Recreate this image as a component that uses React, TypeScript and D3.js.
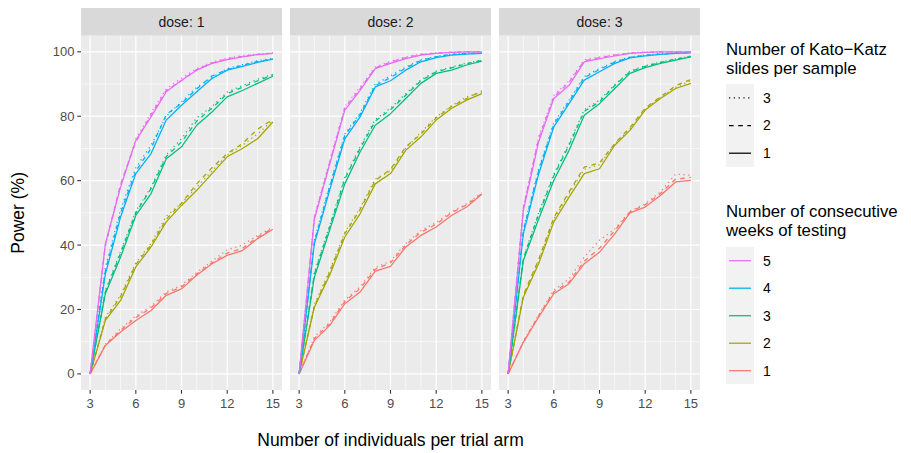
import React, { useEffect } from "react";
import * as d3 from "d3";

// trial arm sizes on the x axis
const armSizes = [3, 4, 5, 6, 7, 8, 9, 10, 11, 12, 13, 14, 15];
const doseLabels = ["dose: 1", "dose: 2", "dose: 3"];
const weekLevels = [1, 2, 3, 4, 5];
const slideLevels = [1, 2, 3];
const weekColors = ["#F8766D", "#A3A500", "#00BF7D", "#00B0F6", "#E76BF3"];
const xTicks = [3, 6, 9, 12, 15];
const yTicks = [0, 20, 40, 60, 80, 100];

// power (%) per week count; rows are 1, 2, 3 Kato-Katz slides
const dose1Week1 = [
  [0, 8.8, 13, 16.6, 19.7, 24.4, 26.4, 30.6, 34.2, 36.8, 38.3, 42, 44.9],
  [0, 9, 13.5, 17.5, 20.5, 25, 27, 31, 34.5, 37.5, 39, 42.5, 45.2],
  [0, 9.2, 14, 18, 21, 25.5, 27.5, 31.5, 35, 38.5, 40, 43, 45.5],
];
const dose1Week2 = [
  [0, 16.6, 22.8, 33.2, 39.4, 47.2, 52.3, 57, 62.2, 67.4, 70, 73, 78.2],
  [0, 17, 24, 34, 40, 48, 53, 59, 64, 68.4, 71.5, 76, 79],
  [0, 17.5, 24.5, 34.5, 40.5, 49, 53, 58, 63, 68, 71, 74.5, 78.8],
];
const dose1Week3 = [
  [0, 24.9, 36.3, 49.2, 56, 66.8, 70.5, 77.2, 81.3, 86, 88, 90.2, 92.4],
  [0, 25.5, 37.5, 50, 57.5, 67.5, 72, 78.5, 82.5, 87, 89, 91, 92.8],
  [0, 26, 38, 50.5, 58, 68, 73, 79.5, 83, 87.5, 89.5, 91.5, 93],
];
const dose1Week4 = [
  [0, 31, 48.7, 62.2, 68.4, 78.8, 83.4, 87.6, 91.7, 94.3, 95.5, 96.7, 97.7],
  [0, 32, 50, 63, 70, 80.5, 84, 88.5, 92.5, 94.5, 95.8, 97, 97.8],
  [0, 33, 51, 64, 71, 80, 84.5, 89, 92, 94.8, 96, 97.2, 98],
];
const dose1Week5 = [
  [0, 40.4, 58, 72.5, 79.8, 87.6, 91.2, 94.3, 96.4, 97.6, 98.4, 99.1, 99.5],
  [0, 40, 59, 72, 80.5, 88, 91, 94.5, 96.5, 97.8, 98.6, 99.2, 99.6],
  [0, 39.5, 58.5, 73, 81, 88.5, 91.8, 94.8, 96.8, 98, 98.8, 99.3, 99.7],
];

const dose2Week1 = [
  [0, 10.4, 15, 21.8, 25.4, 31.9, 33.4, 39.4, 43, 45.6, 49.2, 51.8, 55.8],
  [0, 11, 15.5, 22.5, 26.5, 32.5, 34.5, 40, 44, 46.5, 50, 52.5, 56],
  [0, 11.5, 16, 23, 27, 33, 35, 40.5, 44.5, 47, 50.3, 52.8, 56.2],
];
const dose2Week2 = [
  [0, 20.7, 30.6, 42.5, 49.7, 59, 62.2, 69.4, 73.6, 78.8, 82.4, 85, 87],
  [0, 21, 31.5, 43.5, 51, 60, 63.5, 70.5, 74.5, 79.5, 83, 85.5, 87.9],
  [0, 21.5, 32, 44, 51.5, 60.5, 63, 70, 75, 79.8, 83.2, 86, 87.5],
];
const dose2Week3 = [
  [0, 30, 44.6, 59, 68.9, 77.2, 80.8, 85.5, 90.2, 93.3, 94.3, 95.9, 97.1],
  [0, 31, 45.5, 60.5, 70, 78.5, 82, 86.5, 91, 93.8, 95, 96.3, 97.3],
  [0, 31.5, 46, 61, 70.5, 79, 82.5, 87, 91.3, 94, 95.2, 96.5, 97.4],
];
const dose2Week4 = [
  [0, 40.4, 57, 73, 79.8, 89.1, 91, 94.3, 96.9, 98.2, 99, 99.3, 99.5],
  [0, 41, 58, 74, 80.5, 89.5, 92, 95, 97.3, 98.5, 99.2, 99.5, 99.7],
  [0, 41.5, 58.5, 74.5, 81, 90, 92.5, 95.3, 97.5, 98.6, 99.3, 99.6, 99.8],
];
const dose2Week5 = [
  [0, 48, 65, 81.9, 88, 94.8, 96.4, 97.9, 99, 99.5, 99.8, 100, 100],
  [0, 48.5, 65.5, 82.5, 88.5, 95, 96.8, 98.2, 99.2, 99.6, 99.8, 100, 100],
  [0, 49, 66, 83, 89, 95.3, 97, 98.4, 99.3, 99.7, 99.9, 100, 100],
];

const dose3Week1 = [
  [0, 9.8, 17.6, 24.9, 28, 34.2, 37.8, 43.5, 50, 51.8, 55.4, 59.6, 60.1],
  [0, 10, 18, 25.5, 28.5, 35, 39, 44.5, 50.3, 52.5, 56, 60.5, 61],
  [0, 10.2, 18.3, 26, 29.5, 36.3, 41.5, 45, 50.5, 52.8, 56.5, 62, 61.7],
];
const dose3Week2 = [
  [0, 23.8, 34.2, 47.2, 54.9, 62.2, 63.7, 71, 75.6, 81.9, 85.5, 88.6, 90.2],
  [0, 24.5, 35.5, 48.5, 56.5, 64.2, 65.5, 71.5, 76.5, 82.5, 86, 89.5, 91.4],
  [0, 24, 35, 48, 56, 63.5, 65, 71.3, 76, 82.2, 85.8, 89, 91],
];
const dose3Week3 = [
  [0, 35.2, 48, 60.1, 69.4, 80.3, 83.9, 88.6, 93.3, 95.1, 96.4, 97.4, 98.4],
  [0, 35.8, 49.5, 61.5, 71, 81.5, 84.5, 89.5, 93.8, 95.5, 96.7, 97.7, 98.6],
  [0, 36, 50, 62, 71.5, 82, 85, 89.8, 94, 95.7, 96.8, 97.8, 98.7],
];
const dose3Week4 = [
  [0, 43.5, 62, 76.7, 83.9, 91.2, 93.8, 96.4, 98.1, 98.7, 99.2, 99.5, 99.7],
  [0, 44.5, 63, 77.5, 84.5, 92, 94.5, 96.8, 98.3, 98.9, 99.3, 99.6, 99.8],
  [0, 45, 63.5, 78, 85, 92.3, 94.8, 97, 98.4, 99, 99.4, 99.7, 99.8],
];
const dose3Week5 = [
  [0, 50.8, 72, 85.5, 89.6, 96.9, 97.9, 98.7, 99.5, 99.8, 100, 100, 100],
  [0, 51.5, 73, 86, 90.5, 97.2, 98.2, 99, 99.6, 99.8, 100, 100, 100],
  [0, 52, 73.5, 86.5, 91, 97.5, 98.4, 99.1, 99.7, 99.9, 100, 100, 100],
];

const powerByDose = [
  [dose1Week1, dose1Week2, dose1Week3, dose1Week4, dose1Week5],
  [dose2Week1, dose2Week2, dose2Week3, dose2Week4, dose2Week5],
  [dose3Week1, dose3Week2, dose3Week3, dose3Week4, dose3Week5],
];

const W = 911;
const H = 453;
const FONT = "'Liberation Sans', Arial, sans-serif";
const panelLefts = [81, 290, 499];
const panelW = 201;
const panelTop = 35.7;
const panelBottom = 390;
const stripTop = 8;
const lineW = 1.25;
const legendTitleSize = 16.8;
const dashFor = (s: number) =>
  s === 1 ? undefined : s === 2 ? "4.6,4.6" : "1.2,3.6";

export default function App() {
  useEffect(() => {
    document.body.style.margin = "0";
  }, []);

  const y = d3.scaleLinear().domain([-5, 105]).range([panelBottom, panelTop]);
  const yMinor = [10, 30, 50, 70, 90];
  const xMinor = d3.range(3, 16).filter((v) => v % 3 !== 0);

  return (
    <svg width={W} height={H} style={{ display: "block" }} fontFamily={FONT}>
      <rect width={W} height={H} fill="#FFFFFF" />
      {panelLefts.map((left, p) => {
        const x = d3
          .scaleLinear()
          .domain([2.4, 15.6])
          .range([left, left + panelW]);
        const line = d3
          .line<number>()
          .x((d, i) => x(armSizes[i]))
          .y((d) => y(d));
        return (
          <g key={p}>
            <rect
              x={left}
              y={stripTop}
              width={panelW}
              height={panelTop - stripTop}
              fill="#D9D9D9"
            />
            <text
              x={left + panelW / 2}
              y={(stripTop + panelTop) / 2 + 5}
              textAnchor="middle"
              fontSize={14}
              fill="#1A1A1A"
            >
              {doseLabels[p]}
            </text>
            <rect
              x={left}
              y={panelTop}
              width={panelW}
              height={panelBottom - panelTop}
              fill="#EBEBEB"
            />
            {yMinor.map((v) => (
              <line
                key={"ym" + v}
                x1={left}
                x2={left + panelW}
                y1={y(v)}
                y2={y(v)}
                stroke="#FFFFFF"
                strokeWidth={0.6}
              />
            ))}
            {xMinor.map((v) => (
              <line
                key={"xm" + v}
                x1={x(v)}
                x2={x(v)}
                y1={panelTop}
                y2={panelBottom}
                stroke="#FFFFFF"
                strokeWidth={0.6}
              />
            ))}
            {yTicks.map((v) => (
              <line
                key={"y" + v}
                x1={left}
                x2={left + panelW}
                y1={y(v)}
                y2={y(v)}
                stroke="#FFFFFF"
                strokeWidth={1.2}
              />
            ))}
            {xTicks.map((v) => (
              <line
                key={"x" + v}
                x1={x(v)}
                x2={x(v)}
                y1={panelTop}
                y2={panelBottom}
                stroke="#FFFFFF"
                strokeWidth={1.2}
              />
            ))}
            {weekLevels.map((w, wi) =>
              slideLevels.map((s, si) => (
                <path
                  key={w + "-" + s}
                  d={line(powerByDose[p][wi][si]) || ""}
                  fill="none"
                  stroke={weekColors[wi]}
                  strokeWidth={lineW}
                  strokeDasharray={dashFor(s)}
                  strokeLinejoin="round"
                />
              ))
            )}
            {xTicks.map((v) => (
              <g key={"xt" + v}>
                <line
                  x1={x(v)}
                  x2={x(v)}
                  y1={panelBottom}
                  y2={panelBottom + 3.7}
                  stroke="#333333"
                  strokeWidth={1.1}
                />
                <text
                  x={x(v)}
                  y={panelBottom + 18}
                  textAnchor="middle"
                  fontSize={13}
                  fill="#4D4D4D"
                >
                  {v}
                </text>
              </g>
            ))}
          </g>
        );
      })}
      {yTicks.map((v) => (
        <g key={"yt" + v}>
          <line
            x1={panelLefts[0] - 3.7}
            x2={panelLefts[0]}
            y1={y(v)}
            y2={y(v)}
            stroke="#333333"
            strokeWidth={1.1}
          />
          <text
            x={panelLefts[0] - 6.5}
            y={y(v) + 4.6}
            textAnchor="end"
            fontSize={13}
            fill="#4D4D4D"
          >
            {v}
          </text>
        </g>
      ))}
      <text
        x={(panelLefts[0] + panelLefts[2] + panelW) / 2}
        y={446}
        textAnchor="middle"
        fontSize={17.5}
        fill="#000000"
      >
        Number of individuals per trial arm
      </text>
      <text
        transform={`translate(24,${(panelTop + panelBottom) / 2}) rotate(-90)`}
        textAnchor="middle"
        fontSize={17.5}
        fill="#000000"
      >
        Power (%)
      </text>

      {/* legend: slides per sample */}
      <g transform="translate(726,0)">
        <text x={0} y={55} fontSize={legendTitleSize} fill="#000000">
          Number of Kato−Katz
        </text>
        <text x={0} y={74} fontSize={legendTitleSize} fill="#000000">
          slides per sample
        </text>
        <rect x={0} y={84} width={28} height={83} fill="#F2F2F2" />
        {[3, 2, 1].map((s, i) => (
          <g key={"ls" + s}>
            <line
              x1={3}
              x2={25}
              y1={84 + 13.8 + i * 27.7}
              y2={84 + 13.8 + i * 27.7}
              stroke="#000000"
              strokeWidth={lineW}
              strokeDasharray={dashFor(s)}
            />
            <text
              x={37}
              y={84 + 13.8 + i * 27.7 + 4.8}
              fontSize={14}
              fill="#000000"
            >
              {s}
            </text>
          </g>
        ))}
      </g>

      {/* legend: consecutive weeks */}
      <g transform="translate(726,0)">
        <text x={0} y={217} fontSize={legendTitleSize} fill="#000000">
          Number of consecutive
        </text>
        <text x={0} y={236} fontSize={legendTitleSize} fill="#000000">
          weeks of testing
        </text>
        <rect x={0} y={247} width={28} height={137} fill="#F2F2F2" />
        {[5, 4, 3, 2, 1].map((w, i) => (
          <g key={"lw" + w}>
            <line
              x1={3}
              x2={25}
              y1={247 + 13.7 + i * 27.5}
              y2={247 + 13.7 + i * 27.5}
              stroke={weekColors[w - 1]}
              strokeWidth={lineW}
            />
            <text
              x={37}
              y={247 + 13.7 + i * 27.5 + 4.8}
              fontSize={14}
              fill="#000000"
            >
              {w}
            </text>
          </g>
        ))}
      </g>
    </svg>
  );
}
